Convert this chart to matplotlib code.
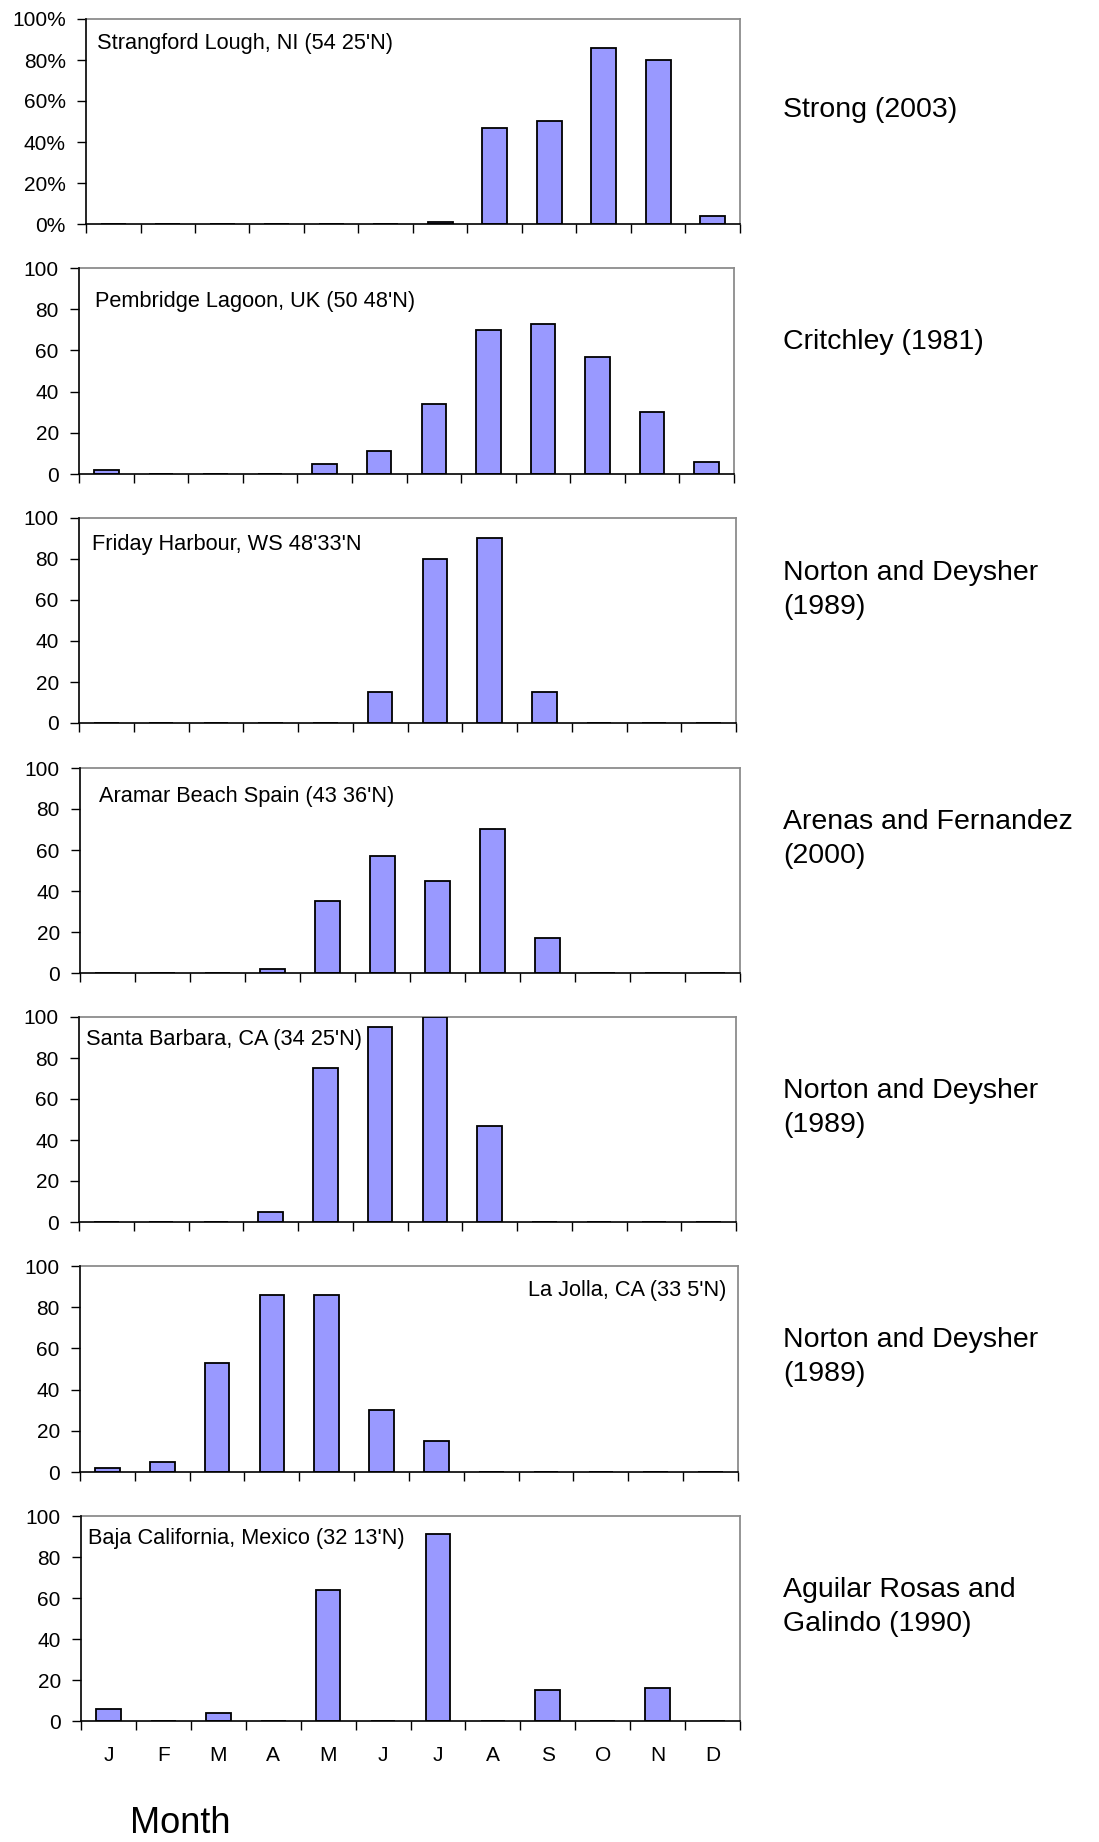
import matplotlib.pyplot as plt
from matplotlib.ticker import FuncFormatter
import numpy as np

plt.rcParams['font.family'] = ['Liberation Sans', 'DejaVu Sans']

months = ["J", "F", "M", "A", "M", "J", "J", "A", "S", "O", "N", "D"]

sites = [
    "Strangford Lough, NI (54 25'N)",
    "Pembridge Lagoon, UK (50 48'N)",
    "Friday Harbour, WS 48'33'N",
    "Aramar Beach Spain (43 36'N)",
    "Santa Barbara, CA (34 25'N)",
    "La Jolla, CA (33 5'N)",
    "Baja California, Mexico (32 13'N)",
]

sources = [
    "Strong (2003)",
    "Critchley (1981)",
    "Norton and Deysher\n(1989)",
    "Arenas and Fernandez\n(2000)",
    "Norton and Deysher\n(1989)",
    "Norton and Deysher\n(1989)",
    "Aguilar Rosas and\nGalindo (1990)",
]

strangford = [0, 0, 0, 0, 0, 0, 1, 47, 50, 86, 80, 4]
pembridge = [2, 0, 0, 0, 5, 11, 34, 70, 73, 57, 30, 6]
friday = [0, 0, 0, 0, 0, 15, 80, 90, 15, 0, 0, 0]
aramar = [0, 0, 0, 2, 35, 57, 45, 70, 17, 0, 0, 0]
santa_barbara = [0, 0, 0, 5, 75, 95, 100, 47, 0, 0, 0, 0]
la_jolla = [2, 5, 53, 86, 86, 30, 15, 0, 0, 0, 0, 0]
baja = [6, 0, 4, 0, 64, 0, 91, 0, 15, 0, 16, 0]

series = [strangford, pembridge, friday, aramar, santa_barbara, la_jolla, baja]

W, H = 1099, 1842
fig = plt.figure(figsize=(W / 100, H / 100), dpi=100)

# panel boxes in pixels: left, right, top, bottom
boxes = [
    (86, 740, 19, 224),
    (79, 734, 268, 474),
    (79, 736, 518, 723),
    (80, 740, 768, 973),
    (79, 736, 1017, 1222),
    (80, 738, 1266, 1472),
    (81, 740, 1516, 1721),
]
# label position inside the panel (axes fraction) and alignment
label_pos = [
    (0.017, 0.880, 'left'),
    (0.024, 0.835, 'left'),
    (0.020, 0.873, 'left'),
    (0.029, 0.860, 'left'),
    (0.011, 0.888, 'left'),
    (0.983, 0.883, 'right'),
    (0.011, 0.888, 'left'),
]
source_y = [110, 342, 590, 839, 1108, 1357, 1607]

x = np.arange(12) + 0.5
for i, vals in enumerate(series):
    l, r, t, b = boxes[i]
    ax = fig.add_axes([l / W, 1 - b / H, (r - l) / W, (b - t) / H])
    ax.bar(x, vals, width=0.45, color='#9999FF', edgecolor='black',
           linewidth=1.3, zorder=3)
    ax.set_xlim(0, 12)
    ax.set_ylim(0, 100)
    ax.set_yticks([0, 20, 40, 60, 80, 100])
    ax.set_xticks(np.arange(13))
    ax.tick_params(axis='both', direction='out', length=6.5, width=1,
                   labelsize=15, pad=8)
    ax.tick_params(axis='x', labelbottom=False)
    if i == 0:
        ax.yaxis.set_major_formatter(FuncFormatter(lambda v, p: '%d%%' % v))
    for s in ['top', 'right']:
        ax.spines[s].set_color('#8c8c8c')
        ax.spines[s].set_linewidth(1.3)
    for s in ['left', 'bottom']:
        ax.spines[s].set_color('black')
        ax.spines[s].set_linewidth(1.2)
        ax.spines[s].set_zorder(4)
    lx, ly, ha = label_pos[i]
    ax.text(lx, ly, sites[i], transform=ax.transAxes, ha=ha, va='center',
            fontsize=15.7, zorder=5)
    fig.text(783 / W, 1 - source_y[i] / H, sources[i], ha='left',
             va='center', fontsize=20.5, linespacing=1.36)
    if i == len(series) - 1:
        ax.set_xticks(x, minor=True)
        ax.set_xticklabels(months, minor=True)
        ax.tick_params(axis='x', which='minor', length=0, labelbottom=True,
                       labelsize=15, pad=18)

fig.text(180 / W, 1 - 1823 / H, "Month", ha='center', va='center',
         fontsize=26)

fig.savefig('out.png', dpi=100)
